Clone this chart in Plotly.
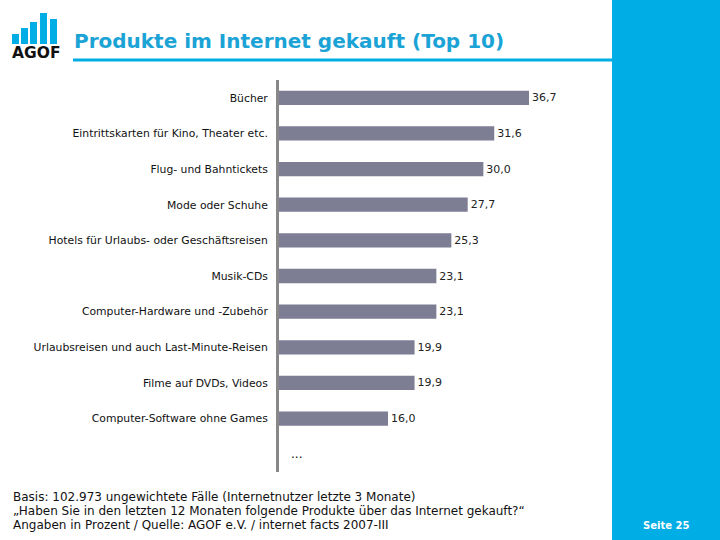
import plotly.graph_objects as go

categories = [
    "Bücher",
    "Eintrittskarten für Kino, Theater etc.",
    "Flug- und Bahntickets",
    "Mode oder Schuhe",
    "Hotels für Urlaubs- oder Geschäftsreisen",
    "Musik-CDs",
    "Computer-Hardware und -Zubehör",
    "Urlaubsreisen und auch Last-Minute-Reisen",
    "Filme auf DVDs, Videos",
    "Computer-Software ohne Games",
]
values = [36.7, 31.6, 30.0, 27.7, 25.3, 23.1, 23.1, 19.9, 19.9, 16.0]

title_text = "Produkte im Internet gekauft (Top 10)"
footer_lines = [
    "Basis: 102.973 ungewichtete Fälle (Internetnutzer letzte 3 Monate)",
    "„Haben Sie in den letzten 12 Monaten folgende Produkte über das Internet gekauft?“",
    "Angaben in Prozent / Quelle: AGOF e.V. / internet facts 2007-III",
]
page_label = "Seite 25"

BLUE = "#00ADE4"
BAR = "#7D7D93"
FONT = "Verdana, DejaVu Sans, sans-serif"

ycats = categories + [" "]
yvals = values + [None]

fig = go.Figure()
fig.add_trace(go.Bar(
    x=yvals, y=ycats, orientation="h",
    marker=dict(color=BAR, line=dict(width=0)),
    width=0.4,
    text=[(f"{v:.1f}".replace(".", ",") if v is not None else "") for v in yvals],
    textposition="outside", cliponaxis=False,
    textfont=dict(family=FONT, size=11, color="#222222"),
    hoverinfo="skip",
))

W, H = 720, 540
L, R, T, B = 279, 108, 80, 68


def px(x):
    return (x - L) / (W - L - R)


def py(y):
    return (H - B - y) / (H - T - B)


fig.update_layout(
    width=W, height=H,
    margin=dict(l=L, r=R, t=T, b=B),
    paper_bgcolor="white", plot_bgcolor="white",
    showlegend=False,
    bargap=0.6,
    font=dict(family=FONT),
    xaxis=dict(range=[0, (W - L - R) / (250 / 36.7)], visible=False, fixedrange=True),
    yaxis=dict(
        categoryorder="array", categoryarray=ycats, autorange="reversed",
        showgrid=False, zeroline=False, ticks="",
        showline=True, linecolor="#888888", linewidth=3,
        tickfont=dict(family=FONT, size=10.8, color="#111111"),
        ticklabelstandoff=6, fixedrange=True,
    ),
)

# right blue panel
fig.add_shape(type="rect", xref="paper", yref="paper",
              x0=px(612), x1=px(W + 2), y0=py(H + 2), y1=py(-2),
              fillcolor=BLUE, line=dict(width=0), layer="below")

# title underline
fig.add_shape(type="line", xref="paper", yref="paper",
              x0=px(73), x1=px(612), y0=py(60), y1=py(60),
              line=dict(color=BLUE, width=3))

# logo bars
logo_bars = [(12, 34), (21, 28), (30, 22), (40, 13), (50, 19)]
for x0, top in logo_bars:
    fig.add_shape(type="rect", xref="paper", yref="paper",
                  x0=px(x0), x1=px(x0 + 7), y0=py(44), y1=py(top),
                  fillcolor=BLUE, line=dict(width=0))

annotations = [
    dict(text="<b>AGOF</b>", x=px(10), y=py(53), xref="paper", yref="paper",
         xanchor="left", yanchor="middle", showarrow=False,
         font=dict(family="DejaVu Sans, Verdana, sans-serif", size=15.5, color="#111111")),
    dict(text=f"<b>{title_text}</b>", x=px(72), y=py(41), xref="paper", yref="paper",
         xanchor="left", yanchor="middle", showarrow=False,
         font=dict(family=FONT, size=20, color="#1BA3D6")),
    dict(text="...", x=1.5, y=" ", xref="x", yref="y",
         xanchor="left", yanchor="middle", showarrow=False,
         font=dict(family=FONT, size=12, color="#111111")),
    dict(text=f"<b>{page_label}</b>", x=px(666), y=py(525), xref="paper", yref="paper",
         xanchor="center", yanchor="middle", showarrow=False,
         font=dict(family=FONT, size=10, color="white")),
]
for i, line in enumerate(footer_lines):
    annotations.append(dict(
        text=line, x=px(11), y=py(497 + 14 * i), xref="paper", yref="paper",
        xanchor="left", yanchor="middle", align="left", showarrow=False,
        font=dict(family=FONT, size=12, color="#111111")))
fig.update_layout(annotations=annotations)

fig.write_html("out.html", config={"displayModeBar": False},
               post_script="document.body.style.margin='0';")
